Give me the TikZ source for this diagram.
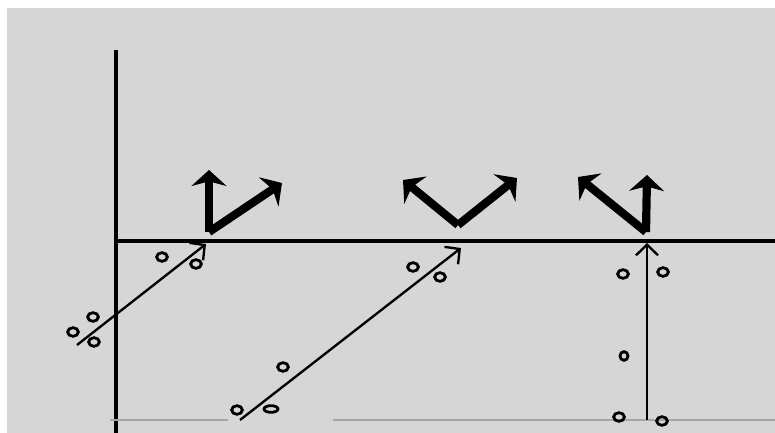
\documentclass[tikz,border=0pt]{standalone}
\usetikzlibrary{arrows.meta,shapes.geometric}

\begin{document}
\begin{tikzpicture}[
    x=0.03cm, y=-0.03cm,
    axis/.style={line width=3pt},
    vel/.style={line width=7pt, -{Stealth[length=0.48cm, width=1.05cm, inset=0.14cm]}},
    ray/.style={line width=2pt, -{Straight Barb[length=0.32cm, width=0.66cm]}},
    dot/.style={draw, ellipse, line width=2.4pt, minimum width=0.32cm, minimum height=0.26cm, inner sep=0pt}
]

    % --- Background ---
    \useasboundingbox (0,0) rectangle (775,433);
    \fill[black!16] (7,8) rectangle (775,433);

    % Axes
    \coordinate (ytop) at (116,50);
    \coordinate (ybot) at (116,433);
    \coordinate (orig) at (116,241);
    \coordinate (xend) at (775,241);
    \draw[axis] (ytop) -- (ybot);
    \draw[axis] (orig) -- (xend);

    % Faint floor line
    \coordinate (fl1) at (110,420);
    \coordinate (fl2) at (228,420);
    \coordinate (fl3) at (333,420);
    \coordinate (fl4) at (775,420);
    \draw[gray!70, line width=1.4pt] (fl1) -- (fl2);
    \draw[gray!70, line width=1.4pt] (fl3) -- (fl4);

    % --- Bold arrows above the axis ---
    \coordinate (a1) at (209,232);
    \coordinate (a1up) at (209,170);
    \coordinate (a1diag) at (282,183);
    \draw[vel] (a1) -- (a1up);
    \draw[vel] (a1) -- (a1diag);

    \coordinate (a2) at (458,225);
    \coordinate (a2left) at (403,180);
    \coordinate (a2right) at (517,178);
    \draw[vel] (a2) -- (a2left);
    \draw[vel] (a2) -- (a2right);

    \coordinate (a3) at (646,232);
    \coordinate (a3left) at (578,177);
    \coordinate (a3up) at (647,175);
    \draw[vel] (a3) -- (a3left);
    \draw[vel] (a3) -- (a3up);

    % --- Thin rays below the axis ---
    \coordinate (r1s) at (77,345);
    \coordinate (r1e) at (206,244);
    \draw[ray] (r1s) -- (r1e);

    \coordinate (r2s) at (240,420);
    \coordinate (r2e) at (461,248);
    \draw[ray] (r2s) -- (r2e);

    \coordinate (r3s) at (647,420);
    \coordinate (r3e) at (647,243);
    \draw[ray] (r3s) -- (r3e);

    % Small particles
    \node[dot] (p1) at (162,257) {};
    \node[dot] (p2) at (196,264) {};
    \node[dot] (p3) at (93,317) {};
    \node[dot] (p4) at (73,332) {};
    \node[dot] (p5) at (94,342) {};

    \node[dot] (q1) at (283,367) {};
    \node[dot] (q2) at (237,410) {};
    \node[dot, minimum width=0.42cm, minimum height=0.2cm] (q3) at (271,409) {};
    \node[dot] (q4) at (413,267) {};
    \node[dot] (q5) at (440,277) {};

    \node[dot] (s1) at (623,274) {};
    \node[dot] (s2) at (663,272) {};
    \node[dot, minimum width=0.24cm] (s3) at (624,356) {};
    \node[dot] (s4) at (619,417) {};
    \node[dot] (s5) at (662,421) {};

\end{tikzpicture}
\end{document}
